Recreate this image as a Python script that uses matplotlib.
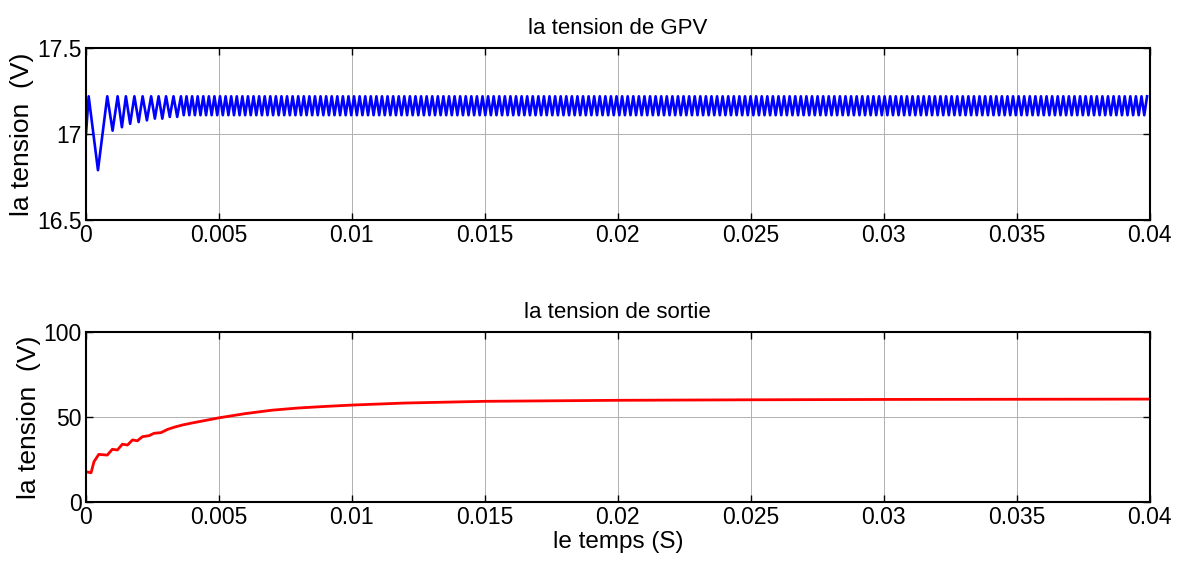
#!/usr/bin/env python3
"""
Tension GPV et tension de sortie
"""
import numpy as np
import matplotlib
matplotlib.use('Agg')
import matplotlib.pyplot as plt
from matplotlib.ticker import FormatStrFormatter

# tension GPV : transitoire
gpv_t_start = [0, 0.0001, 0.00045, 0.0008, 0.001, 0.00119, 0.00135, 0.0015, 0.00166,
               0.00182, 0.00198, 0.00213, 0.00229, 0.00245, 0.00259, 0.00273,
               0.00287, 0.00301, 0.00315, 0.00329, 0.00343, 0.00357]
gpv_v_start = [17.0, 17.22, 16.79, 17.22, 17.02, 17.22, 17.04, 17.22, 17.06,
               17.22, 17.07, 17.22, 17.08, 17.22, 17.09, 17.22,
               17.09, 17.22, 17.10, 17.22, 17.10, 17.22]
# regime etabli : crete / creux et periode de l'ondulation
gpv_peak = 17.22
gpv_trough = 17.11
gpv_period = 0.00021

# tension de sortie
out_t = [0, 0.00019, 0.0003, 0.00048, 0.0008, 0.00099, 0.00118, 0.00137, 0.00156,
         0.00175, 0.00193, 0.00212, 0.00237, 0.00256, 0.00282, 0.00307, 0.00332,
         0.00363, 0.004, 0.005, 0.006, 0.007, 0.008, 0.009, 0.01, 0.012, 0.015,
         0.02, 0.025, 0.03, 0.035, 0.04]
out_v = [17.8, 17.2, 23.7, 28.0, 27.6, 31.0, 30.6, 34.0, 33.5,
         36.5, 36.0, 38.4, 39.0, 40.4, 40.8, 42.7, 44.0,
         45.3, 46.5, 49.5, 52.0, 54.0, 55.3, 56.2, 57.0, 58.2, 59.2,
         59.8, 60.1, 60.3, 60.4, 60.5]

xticks = [0, 0.005, 0.01, 0.015, 0.02, 0.025, 0.03, 0.035, 0.04]


def gpv_series():
  t = list(gpv_t_start)
  v = list(gpv_v_start)
  half = gpv_period / 2
  tt = t[-1] + half
  low = True
  while tt <= 0.04:
    t.append(tt)
    v.append(gpv_trough if low else gpv_peak)
    low = not low
    tt += half
  return np.array(t), np.array(v)


def style_axes(ax, yticks):
  ax.set_xlim(0, 0.04)
  ax.set_xticks(xticks)
  ax.set_yticks(yticks)
  ax.xaxis.set_major_formatter(FormatStrFormatter('%g'))
  ax.yaxis.set_major_formatter(FormatStrFormatter('%g'))
  ax.grid(True, color='#b0b0b0', linewidth=0.7)
  ax.tick_params(direction='in', top=True, right=True, labelsize=16.5, length=5,
                 width=1, pad=3)
  for s in ax.spines.values():
    s.set_linewidth(1.5)


def main():
  plt.rcParams['font.family'] = ['Liberation Sans', 'DejaVu Sans']
  fig = plt.figure(figsize=(11.78, 5.67), dpi=100)

  ax1 = fig.add_axes([0.073, 0.612, 0.903, 0.303])
  t, v = gpv_series()
  ax1.plot(t, v, color='blue', linewidth=1.9)
  ax1.set_ylim(16.5, 17.5)
  style_axes(ax1, [16.5, 17, 17.5])
  ax1.set_title('la tension de GPV', fontsize=16, pad=10)
  ax1.set_ylabel('la tension  (V)', fontsize=19, labelpad=2)

  ax2 = fig.add_axes([0.073, 0.1146, 0.903, 0.300])
  ax2.plot(out_t, out_v, color='red', linewidth=2)
  ax2.set_ylim(0, 100)
  style_axes(ax2, [0, 50, 100])
  ax2.set_title('la tension de sortie', fontsize=16, pad=10)
  ax2.set_ylabel('la tension  (V)', fontsize=19, labelpad=2)
  ax2.set_xlabel('le temps (S)', fontsize=17.5, labelpad=1)

  fig.savefig('out.png', dpi=100)


if __name__ == '__main__':
  main()
